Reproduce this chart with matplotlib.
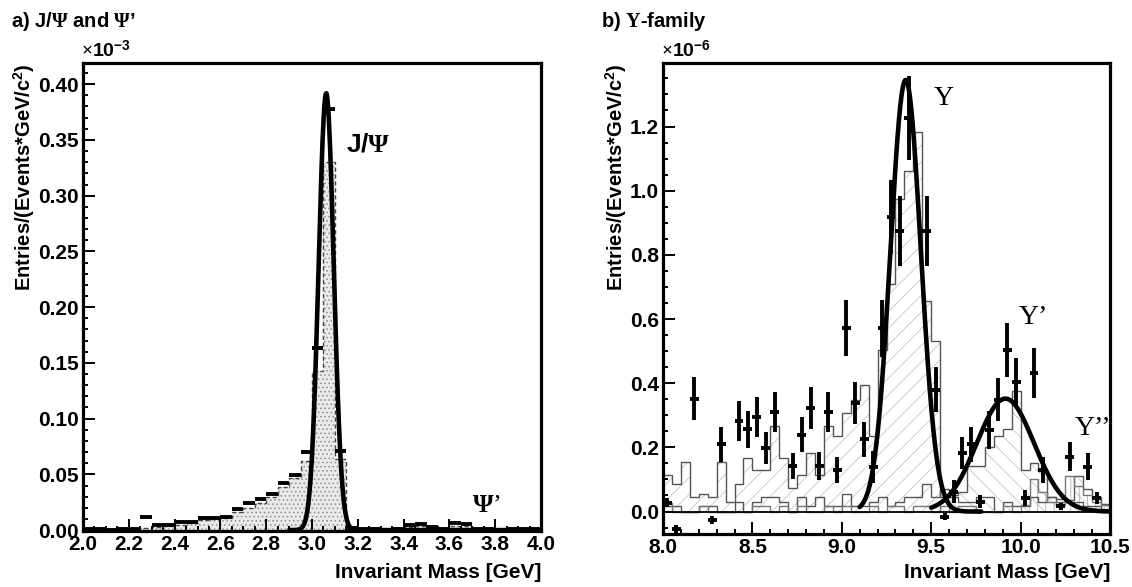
import numpy as np
import matplotlib
matplotlib.use("Agg")
import matplotlib.pyplot as plt
from matplotlib.ticker import MultipleLocator, FormatStrFormatter

plt.rcParams['font.family'] = ['Liberation Sans', 'DejaVu Sans']
plt.rcParams['font.weight'] = 'bold'
plt.rcParams['mathtext.fontset'] = 'custom'
plt.rcParams['mathtext.rm'] = 'Liberation Serif'
plt.rcParams['mathtext.bf'] = 'Liberation Sans:bold'
plt.rcParams['mathtext.default'] = 'rm'
plt.rcParams['hatch.linewidth'] = 0.6

# ---- panel a: J/psi region, 0.05 GeV bins from 2.0 to 4.0 (units of 1e-3)
edges_a = np.linspace(2.0, 4.0, 41)
data_a = [0.0012, 0.0006, 0.0005, 0.0012, 0.0012, 0.0116, 0.0042, 0.0050, 0.0069, 0.0075,
          0.0107, 0.0113, 0.0120, 0.0185, 0.0239, 0.0280, 0.0325, 0.0424, 0.0496, 0.0701,
          0.1630, 0.3780, 0.0710, 0.0015, 0.0008, 0.0008, 0.0005, 0.0008, 0.0045, 0.0057,
          0.0030, 0.0012, 0.0066, 0.0054, 0.0012, 0.0012, 0.0005, 0.0008, 0.0008, 0.0008]
mc_a = [0.0008, 0.0008, 0.0010, 0.0010, 0.0012, 0.0020, 0.0030, 0.0040, 0.0050, 0.0062,
        0.0088, 0.0098, 0.0110, 0.0158, 0.0200, 0.0240, 0.0300, 0.0388, 0.0470, 0.0620,
        0.1430, 0.3300, 0.0640, 0.0015, 0.0008, 0.0008, 0.0008, 0.0008, 0.0030, 0.0040,
        0.0020, 0.0010, 0.0040, 0.0040, 0.0010, 0.0006, 0.0006, 0.0006, 0.0006, 0.0006]
jpsi_amp, jpsi_mu, jpsi_sig = 0.392, 3.062, 0.033
jpsi_range = (2.9, 4.0)

# ---- panel b: Upsilon region, 0.05 GeV bins from 8.0 to 10.5 (units of 1e-6)
edges_b = np.linspace(8.0, 10.5, 51)
mc_b = [0.113, 0.085, 0.154, 0.044, 0.056, 0.044, 0.154, 0.030, 0.085, 0.168,
        0.128, 0.128, 0.266, 0.168, 0.072, 0.113, 0.183, 0.113, 0.266, 0.237,
        0.308, 0.349, 0.393, 0.237, 0.503, 0.708, 0.974, 1.060, 1.184, 0.657,
        0.530, 0.044, 0.050, 0.060, 0.142, 0.142, 0.200, 0.235, 0.256, 0.377,
        0.130, 0.152, 0.125, 0.045, 0.040, 0.035, 0.110, 0.070, 0.045, 0.025]
bkg1_b = [0.018, 0.018, 0.0, 0.0, 0.018, 0.018, 0.0, 0.0, 0.030, 0.0,
          0.030, 0.044, 0.044, 0.030, 0.0, 0.044, 0.018, 0.044, 0.018, 0.018,
          0.056, 0.018, 0.018, 0.030, 0.044, 0.018, 0.030, 0.044, 0.044, 0.085,
          0.044, 0.070, 0.044, 0.030, 0.030, 0.044, 0.044, 0.0, 0.030, 0.018,
          0.018, 0.044, 0.030, 0.044, 0.030, 0.030, 0.030, 0.018, 0.018, 0.0]
bkg2_b = [0.028, 0.0, 0.0, 0.0, 0.018, 0.0, 0.0, 0.0, 0.0, 0.0,
          0.018, 0.018, 0.0, 0.018, 0.0, 0.018, 0.0, 0.0, 0.018, 0.0,
          0.018, 0.0, 0.0, 0.018, 0.0, 0.018, 0.018, 0.0, 0.018, 0.018,
          0.0, 0.018, 0.0, 0.018, 0.018, 0.0, 0.0, 0.0, 0.018, 0.0,
          0.020, 0.100, 0.060, 0.030, 0.020, 0.110, 0.080, 0.050, 0.030, 0.020]
pts_mass = [8.025, 8.075, 8.175, 8.275, 8.325, 8.425, 8.475, 8.525, 8.575, 8.625,
            8.725, 8.775, 8.825, 8.875, 8.925, 8.975, 9.025, 9.075, 9.125, 9.175,
            9.225, 9.275, 9.325, 9.375, 9.475, 9.525, 9.575, 9.625, 9.675, 9.725,
            9.775, 9.825, 9.875, 9.925, 9.975, 10.025, 10.075, 10.125, 10.225, 10.275,
            10.375, 10.425]
pts_val = [0.028, -0.055, 0.351, -0.027, 0.209, 0.282, 0.256, 0.295, 0.199, 0.310,
           0.142, 0.240, 0.323, 0.142, 0.310, 0.130, 0.572, 0.339, 0.225, 0.140,
           0.571, 0.917, 0.875, 1.227, 0.875, 0.379, -0.016, 0.062, 0.182, 0.210,
           0.031, 0.254, 0.348, 0.503, 0.405, 0.042, 0.433, 0.130, 0.016, 0.171,
           0.140, 0.042]
pts_err = [0.015, 0.012, 0.067, 0.012, 0.055, 0.063, 0.058, 0.063, 0.050, 0.063,
           0.042, 0.054, 0.066, 0.043, 0.063, 0.040, 0.088, 0.066, 0.055, 0.050,
           0.088, 0.115, 0.110, 0.130, 0.110, 0.070, 0.010, 0.035, 0.050, 0.055,
           0.020, 0.058, 0.067, 0.085, 0.073, 0.025, 0.078, 0.040, 0.010, 0.045,
           0.042, 0.020]
ups1_amp, ups1_mu, ups1_sig = 1.345, 9.357, 0.085
ups1_range = (9.1, 9.78)
ups2_amp, ups2_mu, ups2_sig = 0.352, 9.915, 0.160
ups2_range = (9.5, 10.5)


def gauss_curve(ax, amp, mu, sig, xr):
    x = np.linspace(xr[0], xr[1], 400)
    ax.plot(x, amp * np.exp(-0.5 * ((x - mu) / sig) ** 2), color='k', lw=3.3,
            solid_capstyle='round', zorder=5)


def style_axes(ax, xmaj, xmin, ymaj, ymin, yfmt):
    ax.xaxis.set_major_locator(MultipleLocator(xmaj))
    ax.xaxis.set_minor_locator(MultipleLocator(xmin))
    ax.yaxis.set_major_locator(MultipleLocator(ymaj))
    ax.yaxis.set_minor_locator(MultipleLocator(ymin))
    ax.xaxis.set_major_formatter(FormatStrFormatter('%.1f'))
    ax.yaxis.set_major_formatter(FormatStrFormatter(yfmt))
    ax.tick_params(which='both', direction='in', top=False, right=False, width=1.4)
    ax.tick_params(which='major', length=8.5, labelsize=15, pad=3)
    ax.tick_params(which='minor', length=3.8)
    for s in ax.spines.values():
        s.set_linewidth(2.3)


fig = plt.figure(figsize=(11.32, 5.87), dpi=100)

# ---------------- panel a
ax1 = fig.add_axes([83 / 1132, 1 - 531 / 587, 458 / 1132, 468 / 587])
ax1.stairs(mc_a, edges_a, fill=True, facecolor='#e9e9e9', edgecolor='#8f8f8f',
           hatch='....', linewidth=0)
ax1.stairs(mc_a, edges_a, color='#444444', lw=1.0, linestyle=(0, (3, 2)))
centers_a = 0.5 * (edges_a[:-1] + edges_a[1:])
ax1.errorbar(centers_a, data_a, xerr=0.025, fmt='none', ecolor='k', elinewidth=2.8, zorder=4)
gauss_curve(ax1, jpsi_amp, jpsi_mu, jpsi_sig, jpsi_range)
ax1.set_xlim(2.0, 4.0)
ax1.set_ylim(-0.0008, 0.419)
style_axes(ax1, 0.2, 0.05, 0.05, 0.01, '%.2f')

ax1.text(3.148, 0.34, r'J/$\Psi$', fontsize=19, va='baseline', ha='left')
ax1.text(3.70, 0.016, r'$\Psi$’', fontsize=19, va='baseline', ha='left',
         family='Liberation Serif', weight='normal')
ax1.text(-0.005, 1.004, r'$\times$10$^{\mathbf{-3}}$', transform=ax1.transAxes,
         fontsize=14, va='bottom', ha='left')
ax1.text(1.0, -0.1004, 'Invariant Mass [GeV]', transform=ax1.transAxes,
         fontsize=15, ha='right', va='baseline')
ax1.text(-0.129, 1.0, r'Entries/(Events*GeV/c$^{\mathbf{2}}$)', transform=ax1.transAxes,
         fontsize=14.5, rotation=90, ha='center', va='top')

# ---------------- panel b
ax2 = fig.add_axes([663 / 1132, 1 - 534 / 587, 447 / 1132, 471 / 587])
ax2.stairs(mc_b[:31], edges_b[:32], fill=True, facecolor='none', edgecolor='#c4c4c4',
           hatch='//', linewidth=0)
ax2.stairs(mc_b[31:], edges_b[31:], fill=True, facecolor='none', edgecolor='#c4c4c4',
           hatch='\\\\', linewidth=0)
ax2.stairs(bkg2_b[40:], edges_b[40:], fill=True, facecolor='none', edgecolor='#b0b0b0',
           hatch='||', linewidth=0)
ax2.stairs(mc_b, edges_b, color='#555555', lw=1.0)
ax2.stairs(bkg1_b, edges_b, color='#555555', lw=1.0)
ax2.stairs(bkg2_b, edges_b, color='#777777', lw=1.0)
ax2.axhline(0, color='k', lw=1.3)
ax2.errorbar(pts_mass, pts_val, yerr=pts_err, xerr=0.025, fmt='none', ecolor='k',
             elinewidth=2.8, zorder=4)
gauss_curve(ax2, ups1_amp, ups1_mu, ups1_sig, ups1_range)
gauss_curve(ax2, ups2_amp, ups2_mu, ups2_sig, ups2_range)
ax2.set_xlim(8.0, 10.5)
ax2.set_ylim(-0.07, 1.398)
style_axes(ax2, 0.5, 0.1, 0.2, 0.05, '%.1f')

serif = dict(family='Liberation Serif', weight='normal', fontsize=20, va='baseline', ha='left')
ax2.text(9.512, 1.266, 'Υ', **serif)
ax2.text(9.99, 0.586, 'Υ’', **serif)
ax2.text(10.30, 0.239, 'Υ’’', **serif)
ax2.text(-0.005, 1.004, r'$\times$10$^{\mathbf{-6}}$', transform=ax2.transAxes,
         fontsize=14, va='bottom', ha='left')
ax2.text(1.0, -0.0934, 'Invariant Mass [GeV]', transform=ax2.transAxes,
         fontsize=15, ha='right', va='baseline')
ax2.text(-0.104, 1.0, r'Entries/(Events*GeV/c$^{\mathbf{2}}$)', transform=ax2.transAxes,
         fontsize=14.5, rotation=90, ha='center', va='top')

# panel titles
fig.text(11 / 1132, 1 - 27 / 587, r'a) J/$\Psi$ and $\Psi$’', fontsize=14.5, va='baseline')
fig.text(601 / 1132, 1 - 27 / 587, r'b) $\Upsilon$-family', fontsize=14.5, va='baseline')

fig.savefig('out.png', dpi=100)
